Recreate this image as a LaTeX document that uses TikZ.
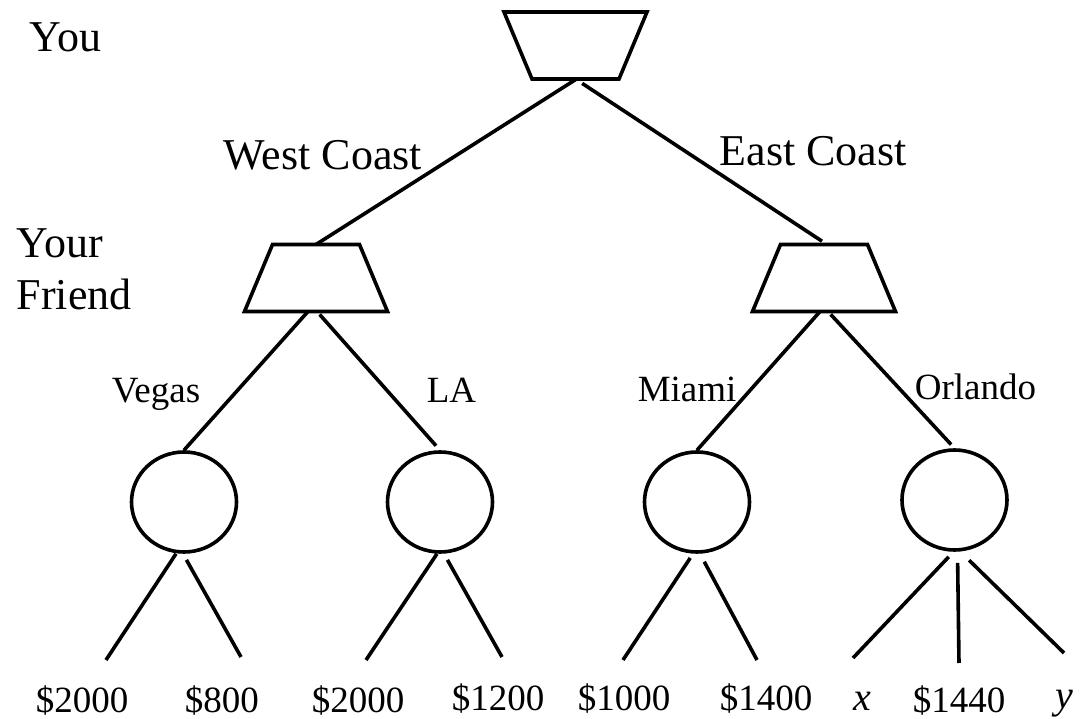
\documentclass[tikz,border=0pt]{standalone}
\usepackage{fontspec}
\setmainfont{Liberation Serif}
\usetikzlibrary{shapes.geometric}
\begin{document}
\begin{tikzpicture}[x=1pt,y=-1pt,
  line width=3.6pt,
  mover/.style={rectangle, minimum width=143pt, minimum height=67pt, inner sep=0pt, outer sep=0pt},
  chance/.style={ellipse, draw, minimum width=105pt, minimum height=100pt, inner sep=0pt},
  big/.style={anchor=base west, inner sep=0pt, font=\fontsize{44}{52}\selectfont},
  small/.style={anchor=base west, inner sep=0pt, font=\fontsize{37}{44}\selectfont},
  pay/.style={anchor=base west, inner sep=0pt, font=\fontsize{37}{44}\selectfont},
  var/.style={anchor=base west, inner sep=0pt, font=\fontsize{40}{44}\selectfont\itshape}
]
\useasboundingbox (0,0) rectangle (1080,719);

% decision nodes: boxes outlined as trapezoids
\node[mover] (you) at (575.5,45.5) {};
\node[mover] (wf) at (316,278) {};
\node[mover] (ef) at (824,278) {};
\draw[line join=miter] (you.north west) -- (you.north east)
  -- ([xshift=-28pt]you.south east) -- ([xshift=28pt]you.south west) -- cycle;
\foreach \n in {wf,ef}
  \draw[line join=miter] (\n.south west) -- (\n.south east)
    -- ([xshift=-28pt]\n.north east) -- ([xshift=28pt]\n.north west) -- cycle;

% chance nodes
\node[chance] (c1) at (184,502) {};
\node[chance] (c2) at (440,502) {};
\node[chance] (c3) at (697,502) {};
\node[chance] (c4) at (954.5,500) {};

% free ends of the outcome branches
\coordinate (l1) at (106,660);
\coordinate (l2) at (241,657);
\coordinate (l3) at (366,660);
\coordinate (l4) at (502,657);
\coordinate (l5) at (623,660);
\coordinate (l6) at (757,660);
\coordinate (l7) at (853,658);
\coordinate (l8) at (959,663);
\coordinate (l9) at (1064,653);

% branches
\draw ([xshift=1pt]you.south) -- (wf.north);
\draw (you.south) -- ([xshift=3pt]ef.north) [shorten <=8pt, shorten >=6pt];
\draw ([xshift=-8pt]wf.south) -- (c1.north);
\draw ([xshift=1pt]wf.south) -- (c2.north) [shorten <=4pt, shorten >=6pt];
\draw ([xshift=-4pt]ef.south) -- (c3.north);
\draw ([xshift=4pt]ef.south) -- (c4.north) [shorten <=4pt, shorten >=5pt];
\draw ([xshift=-8pt]c1.south) -- (l1);
\draw ([xshift=-1pt]c1.south) -- (l2) [shorten <=7pt];
\draw ([xshift=-3pt]c2.south) -- (l3);
\draw ([xshift=4pt]c2.south) -- (l4) [shorten <=7pt];
\draw ([xshift=-4pt]c3.south) -- (l5) [shorten <=5pt];
\draw ([xshift=3pt]c3.south) -- (l6) [shorten <=9pt];
\draw ([xshift=-1pt]c4.south) -- (l7) [shorten <=7pt];
\draw ([xshift=3pt]c4.south) -- (l8) [shorten <=11pt];
\draw ([xshift=6pt]c4.south) -- (l9) [shorten <=12pt];

% player and move labels
\node[big] (tyou) at (28,52) {You};
\node[big] (tyour) at (15,258) {Your};
\node[big] (tfriend) at (15,310) {Friend};
\node[big] (twest) at (222,170) {West Coast};
\node[big] (teast) at (718,166) {East Coast};
\node[small] (tvegas) at (110,403) {Vegas};
\node[small] (tla) at (425,403) {LA};
\node[small] (tmiami) at (636,402) {Miami};
\node[small] (torlando) at (913,400) {Orlando};

% payoffs
\node[pay] (p1) at (34,712) {\$2000};
\node[pay] (p2) at (183,712) {\$800};
\node[pay] (p3) at (310,712) {\$2000};
\node[pay] (p4) at (450,710) {\$1200};
\node[pay] (p5) at (576,710) {\$1000};
\node[pay] (p6) at (718,710) {\$1400};
\node[var] (p7) at (852,710) {x};
\node[pay] (p8) at (911,712) {\$1440};
\node[var] (p9) at (1054,708) {y};
\end{tikzpicture}
\end{document}
